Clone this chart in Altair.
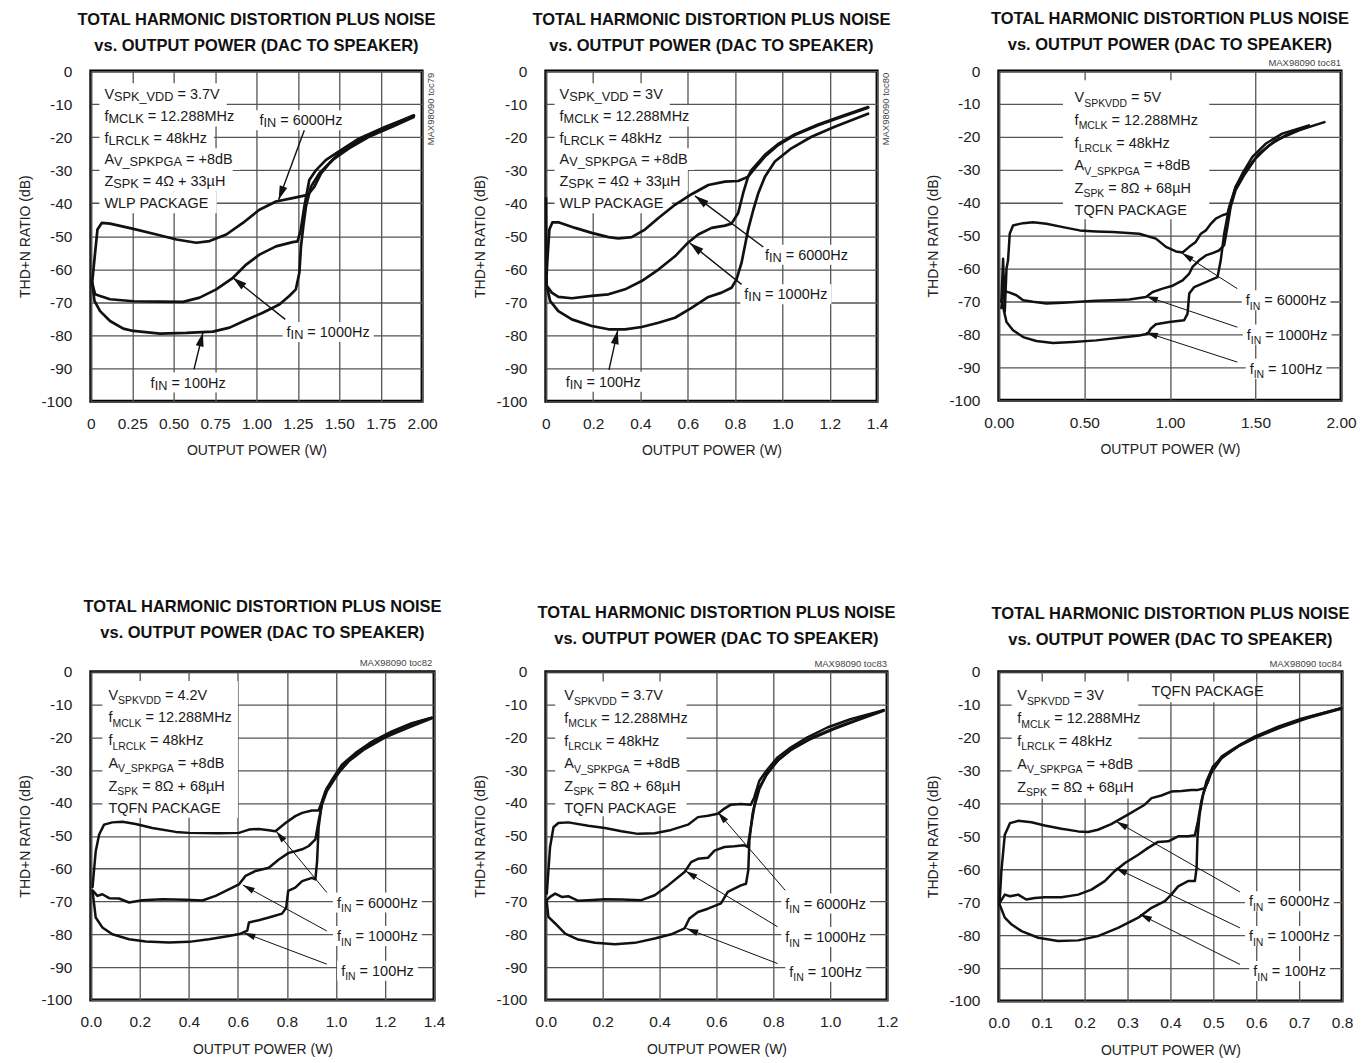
import math
import altair as alt
import pandas as pd

FONT = "Liberation Sans"

TITLE = ["TOTAL HARMONIC DISTORTION PLUS NOISE", "vs. OUTPUT POWER (DAC TO SPEAKER)"]
X_TITLE = "OUTPUT POWER (W)"
Y_TITLE = "THD+N RATIO (dB)"
Y_TICKS = [0, -10, -20, -30, -40, -50, -60, -70, -80, -90, -100]
Y_LABELS = ["0", "-10", "-20", "-30", "-40", "-50", "-60", "-70", "-80", "-90", "-100"]

P1_XTICKS = [0, 0.25, 0.5, 0.75, 1.0, 1.25, 1.5, 1.75, 2.0]
P1_XLABELS = ["0", "0.25", "0.50", "0.75", "1.00", "1.25", "1.50", "1.75", "2.00"]
P2_XTICKS = [0, 0.2, 0.4, 0.6, 0.8, 1.0, 1.2, 1.4]
P2_XLABELS = ["0", "0.2", "0.4", "0.6", "0.8", "1.0", "1.2", "1.4"]
P3_XTICKS = [0, 0.5, 1.0, 1.5, 2.0]
P3_XLABELS = ["0.00", "0.50", "1.00", "1.50", "2.00"]
P4_XTICKS = [0, 0.2, 0.4, 0.6, 0.8, 1.0, 1.2, 1.4]
P4_XLABELS = ["0.0", "0.2", "0.4", "0.6", "0.8", "1.0", "1.2", "1.4"]
P5_XTICKS = [0, 0.2, 0.4, 0.6, 0.8, 1.0, 1.2]
P5_XLABELS = ["0.0", "0.2", "0.4", "0.6", "0.8", "1.0", "1.2"]
P6_XTICKS = [0, 0.1, 0.2, 0.3, 0.4, 0.5, 0.6, 0.7, 0.8]
P6_XLABELS = ["0.0", "0.1", "0.2", "0.3", "0.4", "0.5", "0.6", "0.7", "0.8"]

FREQS = ["6000", "1000", "100"]

# ---------------- panel 1 (toc79) ----------------
P1_X_6000 = [0.008, 0.026, 0.04, 0.066, 0.116, 0.257, 0.397, 0.517, 0.637, 0.717, 0.818, 0.918, 1.018, 1.118, 1.218, 1.31, 1.35, 1.39, 1.44, 1.5, 1.62, 1.76, 1.95]
P1_Y_6000 = [-64.1, -55, -48, -46, -46.2, -47.8, -49.5, -51, -52, -51.5, -49.5, -46, -42, -39.5, -38.5, -37.5, -35, -31, -28, -24.9, -20.9, -17.4, -13.4]
P1_X_1000 = [0.008, 0.026, 0.056, 0.116, 0.257, 0.417, 0.557, 0.657, 0.757, 0.858, 0.938, 1.018, 1.118, 1.218, 1.248, 1.268, 1.289, 1.319, 1.36, 1.42, 1.48, 1.62, 1.78, 1.95]
P1_Y_1000 = [-64.1, -67.6, -68.1, -69.1, -69.7, -69.8, -69.9, -68.6, -66.1, -62.6, -58.6, -55.6, -53.1, -51.8, -51.6, -48, -41, -33, -30, -26.9, -24.9, -20.4, -16.9, -13.6]
P1_X_100 = [0.008, 0.022, 0.056, 0.116, 0.196, 0.257, 0.417, 0.577, 0.737, 0.838, 0.938, 1.038, 1.138, 1.198, 1.238, 1.259, 1.269, 1.283, 1.299, 1.329, 1.379, 1.459, 1.559, 1.679, 1.82, 1.95]
P1_Y_100 = [-64, -69.6, -72.7, -75.7, -78, -78.7, -79.5, -79.3, -78.9, -77.7, -75.4, -73.2, -70.7, -68.1, -66.1, -61.1, -53, -47, -41, -35, -31, -26.9, -23.4, -19.9, -16.9, -13.9]

# ---------------- panel 2 (toc80) ----------------
P2_X_6000 = [0.002, 0.006, 0.015, 0.028, 0.053, 0.124, 0.194, 0.265, 0.307, 0.363, 0.419, 0.476, 0.546, 0.616, 0.687, 0.757, 0.813, 0.855, 0.884, 0.926, 0.982, 1.052, 1.151, 1.249, 1.362]
P2_Y_6000 = [-64, -58, -48, -45.8, -45.8, -47.5, -49, -50.3, -50.7, -50.3, -48, -44.5, -40.5, -37.3, -34.5, -33.5, -33.3, -32, -29.4, -25.9, -22.4, -19.4, -16.4, -13.9, -11.1]
P2_X_1000 = [0.004, 0.025, 0.053, 0.11, 0.194, 0.265, 0.335, 0.405, 0.476, 0.546, 0.602, 0.644, 0.701, 0.757, 0.785, 0.813, 0.834, 0.855, 0.869, 0.9, 0.926, 0.982, 1.052, 1.151, 1.249, 1.362]
P2_Y_1000 = [-65, -67.1, -68.4, -68.8, -68.1, -67.6, -66.1, -63.6, -60.1, -56.1, -51.9, -49.5, -47.5, -46.8, -46.2, -43, -37, -32, -30, -27.5, -25.4, -22.1, -19.2, -16.2, -13.7, -10.9]
P2_X_100 = [0.001, 0.002, 0.004, 0.018, 0.053, 0.11, 0.194, 0.265, 0.335, 0.405, 0.476, 0.546, 0.616, 0.687, 0.743, 0.785, 0.806, 0.827, 0.841, 0.855, 0.877, 0.898, 0.926, 0.968, 1.038, 1.123, 1.221, 1.362]
P2_Y_100 = [-38.5, -58, -65, -69.6, -72.7, -75.2, -77.2, -78.2, -78.2, -77.5, -76.2, -74.7, -71.7, -68.4, -67.1, -65.6, -63.1, -58.1, -53.1, -48, -42, -37, -32, -27.4, -23.4, -19.9, -16.9, -12.9]

# ---------------- panel 3 (toc81) ----------------
P3_X_6000 = [0.015, 0.025, 0.035, 0.045, 0.054, 0.064, 0.083, 0.142, 0.2, 0.278, 0.375, 0.472, 0.569, 0.666, 0.821, 0.918, 0.977, 1.035, 1.074, 1.113, 1.151, 1.181, 1.21, 1.239, 1.268, 1.307, 1.336, 1.355, 1.384, 1.423, 1.482, 1.559, 1.656, 1.812]
P3_Y_6000 = [-70, -57, -73, -60, -57.5, -49.4, -46.9, -46.2, -45.9, -46.4, -47.4, -48.4, -48.7, -48.9, -49.4, -50.9, -53.4, -54.8, -55.1, -53.4, -51.9, -49.4, -48.4, -46.4, -44.8, -43.8, -43.3, -40.3, -35.2, -31.2, -26.1, -22.1, -19, -16.5]
P3_X_1000 = [0.015, 0.025, 0.045, 0.064, 0.103, 0.142, 0.2, 0.278, 0.375, 0.472, 0.569, 0.666, 0.763, 0.86, 0.899, 0.957, 1.016, 1.074, 1.113, 1.132, 1.171, 1.21, 1.249, 1.287, 1.317, 1.336, 1.355, 1.384, 1.433, 1.5, 1.579, 1.676, 1.812]
P3_Y_1000 = [-72, -67.6, -67.0, -67.3, -68.1, -69.6, -70.1, -70.6, -70.4, -70.1, -69.8, -69.6, -69.4, -68.6, -67.1, -66.1, -65.2, -63.6, -61.5, -59.5, -57.5, -56, -55.3, -54.5, -52.9, -47.4, -41.3, -36.2, -31.7, -26.6, -22.6, -19.5, -16.8]
P3_X_100 = [0.016, 0.045, 0.083, 0.142, 0.219, 0.317, 0.433, 0.569, 0.705, 0.821, 0.87, 0.889, 0.918, 0.996, 1.083, 1.103, 1.113, 1.142, 1.21, 1.278, 1.297, 1.317, 1.346, 1.384, 1.443, 1.52, 1.617, 1.753, 1.903]
P3_Y_100 = [-69.6, -76.2, -78.7, -80.8, -82, -82.6, -82.3, -81.8, -81, -80.3, -79.8, -78.2, -76.9, -76.2, -75.7, -73.7, -67.6, -65.6, -64.1, -62.6, -57.5, -49.4, -41.3, -35.2, -30.2, -25.1, -21.1, -18, -15.5]

# ---------------- panel 4 (toc82) ----------------
P4_X_6000 = [0.007, 0.02, 0.034, 0.054, 0.088, 0.129, 0.183, 0.251, 0.346, 0.4, 0.522, 0.604, 0.645, 0.685, 0.726, 0.753, 0.794, 0.834, 0.862, 0.902, 0.929, 0.943, 0.957, 0.984, 1.024, 1.079, 1.147, 1.228, 1.309, 1.391]
P4_Y_6000 = [-65.6, -54.7, -49.6, -46.6, -45.9, -45.7, -46.4, -47.6, -48.8, -49.1, -49.2, -49.1, -48.1, -47.9, -48.3, -48.6, -46.1, -44, -43, -42.3, -42.3, -39.5, -36.4, -32.9, -28.3, -24.8, -21.3, -18.2, -15.7, -14]
P4_X_1000 = [0.007, 0.027, 0.047, 0.075, 0.115, 0.156, 0.21, 0.292, 0.387, 0.455, 0.509, 0.563, 0.604, 0.631, 0.672, 0.726, 0.767, 0.807, 0.834, 0.862, 0.889, 0.916, 0.929, 0.943, 0.963, 0.997, 1.038, 1.092, 1.16, 1.242, 1.323, 1.391]
P4_Y_1000 = [-66.6, -68.3, -67.8, -69, -69.1, -70.3, -69.6, -69.3, -69.5, -69.7, -68.3, -66.3, -64.8, -62.2, -60.7, -59.7, -57.2, -55.2, -54.7, -54.1, -53.1, -51.1, -45.5, -40.5, -36.4, -32.4, -27.8, -24.3, -21, -18, -15.5, -14]
P4_X_100 = [0.007, 0.02, 0.047, 0.088, 0.156, 0.224, 0.319, 0.4, 0.482, 0.563, 0.611, 0.638, 0.645, 0.685, 0.726, 0.78, 0.797, 0.805, 0.834, 0.862, 0.902, 0.916, 0.923, 0.929, 0.943, 0.963, 0.997, 1.052, 1.119, 1.201, 1.296, 1.391]
P4_Y_100 = [-66.8, -74.9, -77.9, -80, -81.5, -82.2, -82.5, -82.3, -81.5, -80.5, -79.8, -78.9, -76.4, -75.7, -74.9, -73.7, -71.9, -66.8, -65.8, -63.8, -62.8, -63.3, -57.7, -47.6, -39.5, -35.4, -31.9, -27.3, -23.5, -20, -17, -14.2]

# ---------------- panel 5 (toc83) ----------------
P5_X_6000 = [0.0035, 0.015, 0.027, 0.044, 0.079, 0.149, 0.208, 0.266, 0.324, 0.383, 0.441, 0.5, 0.535, 0.57, 0.605, 0.628, 0.651, 0.686, 0.721, 0.733, 0.751, 0.78, 0.815, 0.861, 0.92, 0.99, 1.071, 1.188]
P5_Y_6000 = [-67.6, -53.4, -47.4, -46.1, -45.9, -46.9, -47.6, -48.6, -49.4, -49.2, -48.2, -46.6, -44.3, -43.9, -43.3, -41.7, -40.5, -40.3, -40.5, -38.3, -33.2, -29.7, -26.1, -23.1, -20, -17, -14.5, -11.7]
P5_X_1000 = [0.0035, 0.015, 0.033, 0.056, 0.079, 0.114, 0.149, 0.208, 0.266, 0.336, 0.383, 0.43, 0.488, 0.511, 0.535, 0.57, 0.593, 0.628, 0.663, 0.698, 0.71, 0.721, 0.733, 0.751, 0.78, 0.821, 0.873, 0.943, 1.025, 1.107, 1.188]
P5_Y_1000 = [-69.6, -68.6, -67.6, -68.6, -68.4, -69.8, -69.6, -69.3, -69.4, -69.6, -68.1, -65.1, -61, -58, -57, -56.7, -54.5, -53.4, -53.2, -52.9, -53.4, -47.4, -41.3, -35.7, -30.7, -26.6, -23.1, -19.8, -16.8, -14.2, -11.7]
P5_X_100 = [0.0035, 0.009, 0.033, 0.068, 0.114, 0.173, 0.243, 0.313, 0.383, 0.441, 0.488, 0.505, 0.535, 0.57, 0.616, 0.64, 0.663, 0.686, 0.704, 0.712, 0.716, 0.727, 0.745, 0.774, 0.815, 0.861, 0.931, 1.013, 1.095, 1.188]
P5_Y_100 = [-70.1, -74.7, -76.7, -79.8, -81.6, -82.6, -83, -82.6, -81.3, -80, -78.2, -75.2, -73.2, -72.2, -70.6, -67.1, -66.1, -65.1, -64.6, -60.5, -51.4, -43.3, -36.2, -31.7, -27.1, -23.9, -20.5, -17.5, -14.8, -11.9]

# ---------------- panel 6 (toc84) ----------------
P6_X_6000 = [0.002, 0.006, 0.014, 0.026, 0.045, 0.076, 0.107, 0.146, 0.185, 0.208, 0.231, 0.262, 0.301, 0.34, 0.356, 0.379, 0.402, 0.426, 0.449, 0.464, 0.48, 0.488, 0.499, 0.519, 0.55, 0.596, 0.651, 0.705, 0.798]
P6_Y_6000 = [-69.7, -60.6, -49.5, -46, -45.3, -45.7, -46.7, -47.7, -48.5, -48.7, -48, -46.3, -43.4, -40.4, -38.4, -37.6, -36.4, -36.2, -35.9, -35.9, -35.4, -33.3, -29.3, -25.8, -23.2, -19.7, -16.7, -14.3, -11.1]
P6_X_1000 = [0.002, 0.014, 0.026, 0.045, 0.064, 0.084, 0.107, 0.146, 0.185, 0.216, 0.247, 0.27, 0.294, 0.325, 0.348, 0.371, 0.395, 0.418, 0.441, 0.457, 0.464, 0.472, 0.484, 0.499, 0.527, 0.565, 0.612, 0.666, 0.728, 0.798]
P6_Y_1000 = [-70.2, -67.7, -68.2, -67.7, -69.2, -68.7, -68.5, -68.5, -67.7, -66.2, -63.6, -60.6, -58.1, -55.6, -53.5, -51.7, -51.5, -50, -50, -49.7, -45.5, -39.4, -33.3, -28.8, -25.3, -22, -19.2, -16.2, -13.6, -11.1]
P6_X_100 = [0.002, 0.014, 0.03, 0.053, 0.092, 0.138, 0.185, 0.231, 0.278, 0.325, 0.356, 0.387, 0.402, 0.418, 0.441, 0.457, 0.461, 0.463, 0.468, 0.476, 0.492, 0.519, 0.558, 0.604, 0.658, 0.72, 0.798]
P6_Y_100 = [-70.7, -74.7, -76.8, -78.8, -80.8, -81.8, -81.6, -80.3, -77.8, -74.7, -71.7, -69.7, -67.7, -65.2, -63.6, -63.6, -59.6, -50.5, -43.4, -37.4, -31.3, -26.3, -22.7, -19.7, -16.9, -14.1, -11.3]

# ---------------- annotation texts ((text, is_subscript) segments) ----------------
P1_PARAMS = [
    [("V", 0), ("SPK_VDD", 1), (" = 3.7V", 0)],
    [("f", 0), ("MCLK", 1), (" = 12.288MHz", 0)],
    [("f", 0), ("LRCLK", 1), (" = 48kHz", 0)],
    [("A", 0), ("V_SPKPGA", 1), (" = +8dB", 0)],
    [("Z", 0), ("SPK", 1), (" = 4Ω + 33µH", 0)],
    [("WLP PACKAGE", 0)],
]
P2_PARAMS = [
    [("V", 0), ("SPK_VDD", 1), (" = 3V", 0)],
    [("f", 0), ("MCLK", 1), (" = 12.288MHz", 0)],
    [("f", 0), ("LRCLK", 1), (" = 48kHz", 0)],
    [("A", 0), ("V_SPKPGA", 1), (" = +8dB", 0)],
    [("Z", 0), ("SPK", 1), (" = 4Ω + 33µH", 0)],
    [("WLP PACKAGE", 0)],
]
P3_PARAMS = [
    [("V", 0), ("SPKVDD", 1), (" = 5V", 0)],
    [("f", 0), ("MCLK", 1), (" = 12.288MHz", 0)],
    [("f", 0), ("LRCLK", 1), (" = 48kHz", 0)],
    [("A", 0), ("V_SPKPGA", 1), (" = +8dB", 0)],
    [("Z", 0), ("SPK", 1), (" = 8Ω + 68µH", 0)],
    [("TQFN PACKAGE", 0)],
]
P4_PARAMS = [
    [("V", 0), ("SPKVDD", 1), (" = 4.2V", 0)],
    [("f", 0), ("MCLK", 1), (" = 12.288MHz", 0)],
    [("f", 0), ("LRCLK", 1), (" = 48kHz", 0)],
    [("A", 0), ("V_SPKPGA", 1), (" = +8dB", 0)],
    [("Z", 0), ("SPK", 1), (" = 8Ω + 68µH", 0)],
    [("TQFN PACKAGE", 0)],
]
P5_PARAMS = [
    [("V", 0), ("SPKVDD", 1), (" = 3.7V", 0)],
    [("f", 0), ("MCLK", 1), (" = 12.288MHz", 0)],
    [("f", 0), ("LRCLK", 1), (" = 48kHz", 0)],
    [("A", 0), ("V_SPKPGA", 1), (" = +8dB", 0)],
    [("Z", 0), ("SPK", 1), (" = 8Ω + 68µH", 0)],
    [("TQFN PACKAGE", 0)],
]
P6_PARAMS = [
    [("V", 0), ("SPKVDD", 1), (" = 3V", 0)],
    [("f", 0), ("MCLK", 1), (" = 12.288MHz", 0)],
    [("f", 0), ("LRCLK", 1), (" = 48kHz", 0)],
    [("A", 0), ("V_SPKPGA", 1), (" = +8dB", 0)],
    [("Z", 0), ("SPK", 1), (" = 8Ω + 68µH", 0)],
]
P6_EXTRA = [("TQFN PACKAGE", 0)]
LABEL_SEGS = {
    "6000": [("f", 0), ("IN", 1), (" = 6000Hz", 0)],
    "1000": [("f", 0), ("IN", 1), (" = 1000Hz", 0)],
    "100": [("f", 0), ("IN", 1), (" = 100Hz", 0)],
}
TOC = ["MAX98090 toc79", "MAX98090 toc80", "MAX98090 toc81", "MAX98090 toc82", "MAX98090 toc83", "MAX98090 toc84"]

CURVES = [
    {"6000": (P1_X_6000, P1_Y_6000), "1000": (P1_X_1000, P1_Y_1000), "100": (P1_X_100, P1_Y_100)},
    {"6000": (P2_X_6000, P2_Y_6000), "1000": (P2_X_1000, P2_Y_1000), "100": (P2_X_100, P2_Y_100)},
    {"6000": (P3_X_6000, P3_Y_6000), "1000": (P3_X_1000, P3_Y_1000), "100": (P3_X_100, P3_Y_100)},
    {"6000": (P4_X_6000, P4_Y_6000), "1000": (P4_X_1000, P4_Y_1000), "100": (P4_X_100, P4_Y_100)},
    {"6000": (P5_X_6000, P5_Y_6000), "1000": (P5_X_1000, P5_Y_1000), "100": (P5_X_100, P5_Y_100)},
    {"6000": (P6_X_6000, P6_Y_6000), "1000": (P6_X_1000, P6_Y_1000), "100": (P6_X_100, P6_Y_100)},
]
PARAMS = [P1_PARAMS, P2_PARAMS, P3_PARAMS, P4_PARAMS, P5_PARAMS, P6_PARAMS]
XTICKS = [(P1_XTICKS, P1_XLABELS), (P2_XTICKS, P2_XLABELS), (P3_XTICKS, P3_XLABELS),
          (P4_XTICKS, P4_XLABELS), (P5_XTICKS, P5_XLABELS), (P6_XTICKS, P6_XLABELS)]

# ---------------- layout / annotation placement ----------------
LAYOUT = [
    dict(w=332, h=331, xmax=2.0, toff=10, par=(0.082, -7.0, 21.7), sub=0.88, drop=2.0, box="lines",
         labels=[(1.018, -14.9), (1.182, -79.0), (0.361, -94.3)],
         arrows=[(1.289, -17.9, 1.134, -39.0), (1.174, -75.2, 0.858, -62.6), (0.623, -90.3, 0.677, -79.2)],
         toc=(2.054, -0.5, True), head=(14, 4.0), rw=1.4, lw=2.7),
    dict(w=332, h=331, xmax=1.4, toff=10, par=(0.058, -7.0, 21.7), sub=0.88, drop=2.0, box="lines",
         labels=[(0.926, -55.6), (0.839, -67.6), (0.084, -94.1)],
         arrows=[(0.919, -53.3, 0.63, -37.8), (0.827, -64.6, 0.609, -52.1), (0.267, -90.5, 0.304, -78.5)],
         toc=(1.438, -0.5, True), head=(14, 4.0), rw=1.4, lw=2.7),
    dict(w=343, h=330, xmax=2.0, toff=5, par=(0.443, -7.9, 22.7), sub=0.72, drop=4.5,
         box=[(0.375, 1.23, -2.8, -45.0)],
         labels=[(1.443, -69.6), (1.449, -80.0), (1.466, -90.4)],
         arrows=[(1.394, -66.1, 1.07, -55.3), (1.394, -77.8, 0.86, -68.4), (1.394, -88.4, 0.86, -79.4)],
         toc=(2.0, 2.4, False), head=(12, 3.2), rw=1.0, lw=2.5),
    dict(w=344, h=329, xmax=1.4, toff=17, par=(0.072, -6.9, 22.8), sub=0.72, drop=4.5,
         box=[(0.047, 0.6, -2.8, -44.5)],
         labels=[(1.004, -70.3), (1.004, -80.5), (1.021, -91.1)],
         arrows=[(0.963, -67.3, 0.756, -48.6), (0.963, -79.0, 0.62, -65.0), (0.963, -89.1, 0.623, -79.5)],
         toc=(1.393, 2.5, False), head=(12, 3.2), rw=1.0, lw=2.5),
    dict(w=342, h=329, xmax=1.2, toff=11, par=(0.065, -7.1, 22.7), sub=0.72, drop=4.5,
         box=[(0.033, 0.495, -3.0, -44.0)],
         labels=[(0.842, -70.6), (0.842, -80.8), (0.856, -91.4)],
         arrows=[(0.842, -66.6, 0.605, -42.8), (0.815, -77.7, 0.491, -60.7), (0.815, -88.9, 0.494, -78.2)],
         toc=(1.2, 2.4, False), head=(12, 3.2), rw=1.0, lw=2.5),
    dict(w=344, h=330, xmax=0.8, toff=11, par=(0.043, -7.1, 22.9), sub=0.72, drop=4.5,
         box=[(0.030, 0.325, -3.0, -38.5), (0.34, 0.6, -3.0, -9.3)],
         labels=[(0.583, -69.7), (0.583, -80.3), (0.593, -90.9)],
         arrows=[(0.562, -66.9, 0.274, -45.5), (0.562, -77.8, 0.272, -59.6), (0.562, -88.9, 0.329, -73.7)],
         toc=(0.8, 2.2, False), head=(12, 3.2), rw=1.0, lw=2.5, extra=(0.356, -5.9)),
]

FS = 14.5
AW = {' ': 278, '(': 333, ')': 333, '+': 584, '-': 333, '.': 278, '=': 584, '_': 556, 'Ω': 768, 'µ': 576}
for _d in "0123456789":
    AW[_d] = 556
AW.update(dict(A=667, B=667, C=722, D=722, E=667, F=611, G=778, H=722, I=278, J=500, K=667, L=556, M=833,
               N=722, O=778, P=667, Q=778, R=722, S=667, T=611, U=722, V=667, W=944, X=667, Y=667, Z=611))
AW.update(dict(a=556, b=556, c=500, d=556, e=556, f=278, g=556, h=556, i=222, j=222, k=500, l=222, m=833,
               n=556, o=556, p=556, q=556, r=333, s=500, t=278, u=556, v=500, w=722, x=500, y=500, z=500))


def tw(s, fs):
    return sum(AW.get(c, 556) for c in s) * fs / 1000.0


def line_rows(segs, x0, yc, sub, drop, sx, sy):
    rows = []
    xpx = 0.0
    ybase = yc - 0.36 * FS * sy
    for text, is_sub in segs:
        f = FS * sub if is_sub else FS
        yb = ybase - (drop * sy if is_sub else 0.0)
        stripped = text.lstrip(" ")
        xpx += tw(text[: len(text) - len(stripped)], f)
        rows.append(dict(x=x0 + xpx * sx, y=yb, t=stripped, fs=f))
        xpx += tw(stripped, f)
    return rows, xpx


def lab_expr(vals, labs):
    return "[" + ",".join("'%s'" % l for l in labs) + "][indexof([" + ",".join(repr(v) for v in vals) + "], datum.value)]"


def build_panel(i):
    L = LAYOUT[i]
    W, H, xmax = L["w"], L["h"], L["xmax"]
    sx, sy = xmax / W, 100.0 / H
    xs = alt.Scale(domain=[0, xmax], nice=False, zero=False)
    ys = alt.Scale(domain=[-100, 0], nice=False, zero=False)
    xt, xl = XTICKS[i]
    common = dict(grid=True, gridColor="#555555", gridWidth=1.3, ticks=False, tickSize=0, domain=False,
                  labelFont=FONT, labelFontSize=15.5, labelColor="#222222", titleFont=FONT,
                  titleFontSize=14, titleFontWeight="normal", titleColor="#222222",
                  labelOverlap=False, labelFlush=False)
    xaxis = alt.Axis(values=xt, labelExpr=lab_expr(xt, xl), title=X_TITLE, labelPadding=15,
                     titlePadding=12, **common)
    yaxis = alt.Axis(values=Y_TICKS, labelExpr=lab_expr(Y_TICKS, Y_LABELS), title=Y_TITLE,
                     labelPadding=19, titlePadding=8, **common)

    def X(f):
        return alt.X(f, type="quantitative", scale=xs, axis=xaxis)

    def Y(f):
        return alt.Y(f, type="quantitative", scale=ys, axis=yaxis)

    texts, boxes = [], []
    x0, y0, sp = L["par"]
    for k, segs in enumerate(PARAMS[i]):
        yc = y0 - k * sp * sy
        rows, wpx = line_rows(segs, x0, yc, L["sub"], L["drop"], sx, sy)
        texts += rows
        if L["box"] == "lines":
            boxes.append(dict(x1=x0 - 5 * sx, x2=x0 + (wpx + 7) * sx, y1=yc + sp / 2 * sy, y2=yc - sp / 2 * sy))
    if L["box"] != "lines":
        for b in L["box"]:
            boxes.append(dict(x1=b[0], x2=b[1], y1=b[2], y2=b[3]))
    if "extra" in L:
        ex, ey = L["extra"]
        rows, _ = line_rows(P6_EXTRA, ex, ey, L["sub"], L["drop"], sx, sy)
        texts += rows
    for key, (lx, ly) in zip(FREQS, L["labels"]):
        rows, wpx = line_rows(LABEL_SEGS[key], lx, ly, L["sub"], L["drop"], sx, sy)
        texts += rows
        boxes.append(dict(x1=lx - 4 * sx, x2=lx + (wpx + 4) * sx, y1=ly + 10 * sy, y2=ly - 10 * sy))

    rules, heads = [], []
    for (xa, ya, xb, yb) in L["arrows"]:
        rules.append(dict(x1=xa, y1=ya, x2=xb, y2=yb))
        dxp = (xb - xa) / sx
        dyp = -(yb - ya) / sy
        heads.append(dict(x=xb, y=yb, a=math.degrees(math.atan2(dxp, -dyp)) % 360))

    crow = []
    for key in FREQS:
        cx, cy = CURVES[i][key]
        for j, (a, b) in enumerate(zip(cx, cy)):
            crow.append(dict(x=a, y=b, c=key, o=j))

    hl, hw = L["head"]
    shape = "M0,0L%.3f,%.3fL%.3f,%.3fZ" % (hw / 10, hl / 10, -hw / 10, hl / 10)

    lay_box = alt.Chart(pd.DataFrame(boxes)).mark_rect(color="white", opacity=1).encode(
        x=X("x1"), x2="x2", y=Y("y1"), y2="y2")
    lay_curve = alt.Chart(pd.DataFrame(crow)).mark_line(
        color="#111111", strokeWidth=L["lw"], strokeJoin="round", strokeCap="round").encode(
        x=X("x"), y=Y("y"), detail="c:N", order="o:Q")
    lay_rule = alt.Chart(pd.DataFrame(rules)).mark_rule(color="#111111", strokeWidth=L["rw"]).encode(
        x=X("x1"), x2="x2", y=Y("y1"), y2="y2")
    lay_head = alt.Chart(pd.DataFrame(heads)).mark_point(
        shape=shape, size=400, filled=True, color="#111111", opacity=1, strokeWidth=0).encode(
        x=X("x"), y=Y("y"), angle=alt.Angle("a:Q", scale=None))
    lay_text = alt.Chart(pd.DataFrame(texts)).mark_text(
        align="left", baseline="alphabetic", font=FONT, color="#1a1a1a").encode(
        x=X("x"), y=Y("y"), text="t:N", size=alt.Size("fs:Q", scale=None))
    tx, ty, rot = L["toc"]
    toc_df = pd.DataFrame([dict(x=tx, y=ty, t=TOC[i])])
    if rot:
        toc_mark = alt.Chart(toc_df).mark_text(angle=270, align="right", baseline="middle",
                                               font=FONT, fontSize=9.5, color="#444444")
    else:
        toc_mark = alt.Chart(toc_df).mark_text(align="right", baseline="middle",
                                               font=FONT, fontSize=9.5, color="#444444")
    lay_toc = toc_mark.encode(x=X("x"), y=Y("y"), text="t:N")

    return alt.layer(lay_box, lay_curve, lay_rule, lay_head, lay_text, lay_toc).properties(
        width=W, height=H, title=alt.TitleParams(TITLE, offset=L["toff"]))


panels = [build_panel(i) for i in range(6)]
chart = alt.concat(*panels, columns=3, spacing={"row": 271, "column": 112}, bounds="flush",
                   padding={"left": 9, "top": 0, "right": 2, "bottom": 0}).configure_view(
    stroke="black", strokeWidth=3).configure_title(
    font=FONT, fontSize=16.5, fontWeight="bold", anchor="middle", frame="group",
    lineHeight=26, baseline="alphabetic", color="#111111")

chart.save("out.html", embed_options={"renderer": "svg", "actions": False})
